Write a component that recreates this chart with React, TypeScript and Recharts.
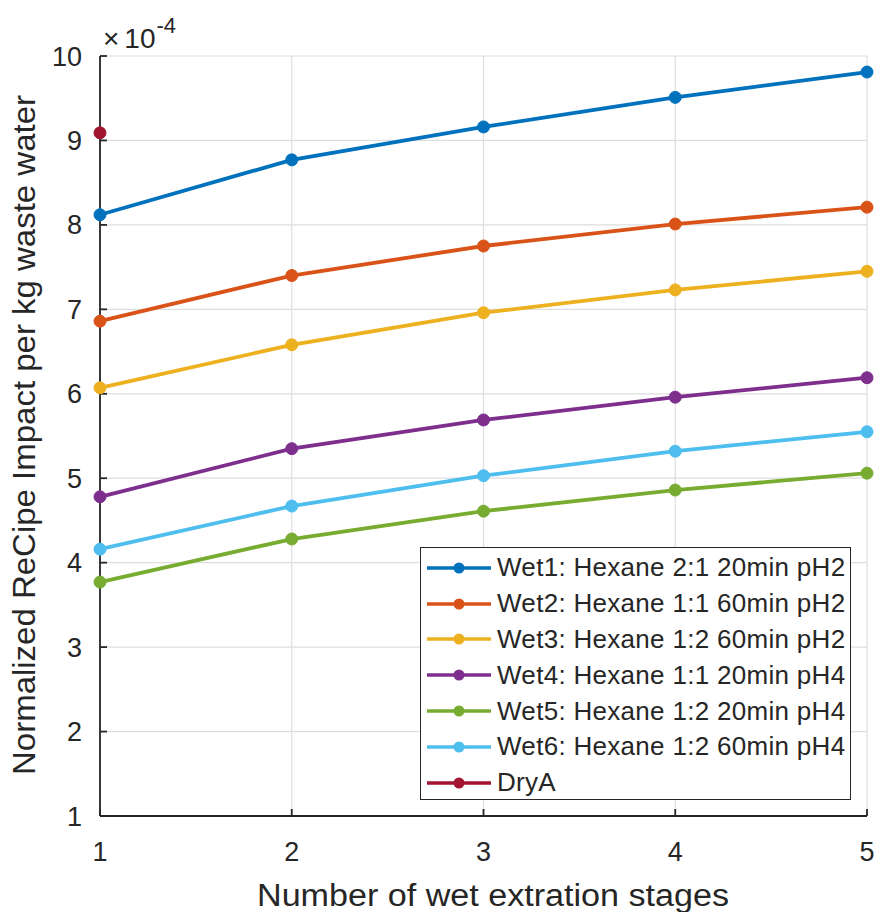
import React from "react";
import { LineChart, Line, XAxis, YAxis, CartesianGrid, Legend, Label } from "recharts";

const stages = [1, 2, 3, 4, 5];
const wet1 = [8.12, 8.77, 9.16, 9.51, 9.81];
const wet2 = [6.86, 7.4, 7.75, 8.01, 8.21];
const wet3 = [6.07, 6.58, 6.96, 7.23, 7.45];
const wet4 = [4.78, 5.35, 5.69, 5.96, 6.19];
const wet5 = [3.77, 4.28, 4.61, 4.86, 5.06];
const wet6 = [4.16, 4.67, 5.03, 5.32, 5.55];
const dryA = [9.09];
const yTicks = [1, 2, 3, 4, 5, 6, 7, 8, 9, 10];

const seriesNames = [
  "Wet1: Hexane 2:1 20min pH2",
  "Wet2: Hexane 1:1 60min pH2",
  "Wet3: Hexane 1:2 60min pH2",
  "Wet4: Hexane 1:1 20min pH4",
  "Wet5: Hexane 1:2 20min pH4",
  "Wet6: Hexane 1:2 60min pH4",
  "DryA",
];
const seriesKeys = ["wet1", "wet2", "wet3", "wet4", "wet5", "wet6", "dryA"];
const seriesColors = ["#0072BD", "#D95319", "#EDB120", "#7E2F8E", "#77AC30", "#4DBEEE", "#A2142F"];
const seriesValues = [wet1, wet2, wet3, wet4, wet5, wet6, dryA];

const data = stages.map((s, i) => {
  const row: any = { stage: s };
  seriesKeys.forEach((k, j) => {
    const v = seriesValues[j][i];
    row[k] = v === undefined ? null : v;
  });
  return row;
});

const FONT = '"Liberation Sans", Arial, Helvetica, sans-serif';
const AX = "#262626";

const LegendBox = () => (
  <div
    style={{
      position: "absolute",
      left: 412,
      top: 539,
      width: 431,
      height: 253,
      border: "1.5px solid #262626",
      background: "#fff",
      boxSizing: "border-box",
      fontFamily: FONT,
      paddingTop: 2,
    }}
  >
    {seriesNames.map((n, i) => (
      <div key={n} style={{ display: "flex", alignItems: "center", height: 35.8 }}>
        <svg width={70} height={20} style={{ marginLeft: 6, flex: "none" }}>
          <line x1={0} y1={10} x2={64} y2={10} stroke={seriesColors[i]} strokeWidth={3.5} />
          <circle cx={32} cy={10} r={5.5} fill={seriesColors[i]} />
        </svg>
        <span style={{ fontSize: 26, color: "#262626", whiteSpace: "nowrap", letterSpacing: 0.3 }}>{n}</span>
      </div>
    ))}
  </div>
);

export default function App() {
  return (
    <div style={{ position: "absolute", left: 8, top: 8, width: 870, height: 904 }}>
      <LineChart
        width={870}
        height={904}
        data={data}
        margin={{ top: 48, right: 11, bottom: 0, left: 0 }}
        style={{ overflow: "visible" }}
      >
        <CartesianGrid stroke="#dedede" strokeWidth={1.2} />
        <XAxis
          dataKey="stage"
          type="number"
          domain={[1, 5]}
          ticks={stages}
          height={96}
          tickSize={-7}
          tickMargin={33}
          stroke={AX}
          strokeWidth={1.8}
          tick={{ fontSize: 27, fill: "#262626", fontFamily: FONT }}
        >
          <Label
            content={() => (
              <text
                x={485}
                y={898}
                textAnchor="middle"
                style={{ fontSize: 31, fontFamily: FONT }}
                fill="#262626"
                textLength={472}
                lengthAdjust="spacingAndGlyphs"
              >
                Number of wet extration stages
              </text>
            )}
          />
        </XAxis>
        <XAxis
          xAxisId="top"
          orientation="top"
          type="number"
          domain={[1, 5]}
          ticks={stages}
          height={0}
          tickSize={-7}
          stroke={AX}
          strokeWidth={1.8}
          tick={() => <g />}
        />
        <YAxis
          type="number"
          domain={[1, 10]}
          ticks={yTicks}
          width={92}
          tickSize={-7}
          tickMargin={25}
          stroke={AX}
          strokeWidth={1.8}
          tick={{ fontSize: 27, fill: "#262626", fontFamily: FONT }}
        >
          <Label
            content={() => (
              <text
                x={16}
                y={427}
                transform="rotate(-90 16 427)"
                textAnchor="middle"
                dominantBaseline="central"
                style={{ fontSize: 31, fontFamily: FONT }}
                fill="#262626"
                textLength={680}
                lengthAdjust="spacingAndGlyphs"
              >
                Normalized ReCipe Impact per kg waste water
              </text>
            )}
          />
          <Label
            content={() => (
              <text x={95} y={40} style={{ fontSize: 28, fontFamily: FONT }} fill="#262626">
                ×
                <tspan dx={5}>10</tspan>
                <tspan dx={1} dy={-15} style={{ fontSize: 22 }}>-4</tspan>
              </text>
            )}
          />
        </YAxis>
        <YAxis
          yAxisId="right"
          orientation="right"
          type="number"
          domain={[1, 10]}
          ticks={yTicks}
          width={0}
          tickSize={-7}
          stroke={AX}
          strokeWidth={1.8}
          tick={() => <g />}
        />
        {seriesKeys.map((k, i) => (
          <Line
            key={k}
            dataKey={k}
            name={seriesNames[i]}
            stroke={seriesColors[i]}
            strokeWidth={3.8}
            dot={{ r: 6, fill: seriesColors[i], stroke: seriesColors[i], strokeWidth: 1 }}
            activeDot={false}
            isAnimationActive={false}
          />
        ))}
        <Legend content={() => <LegendBox />} wrapperStyle={{ position: "absolute", left: 0, top: 0, width: 0, height: 0 }} />
      </LineChart>
    </div>
  );
}
